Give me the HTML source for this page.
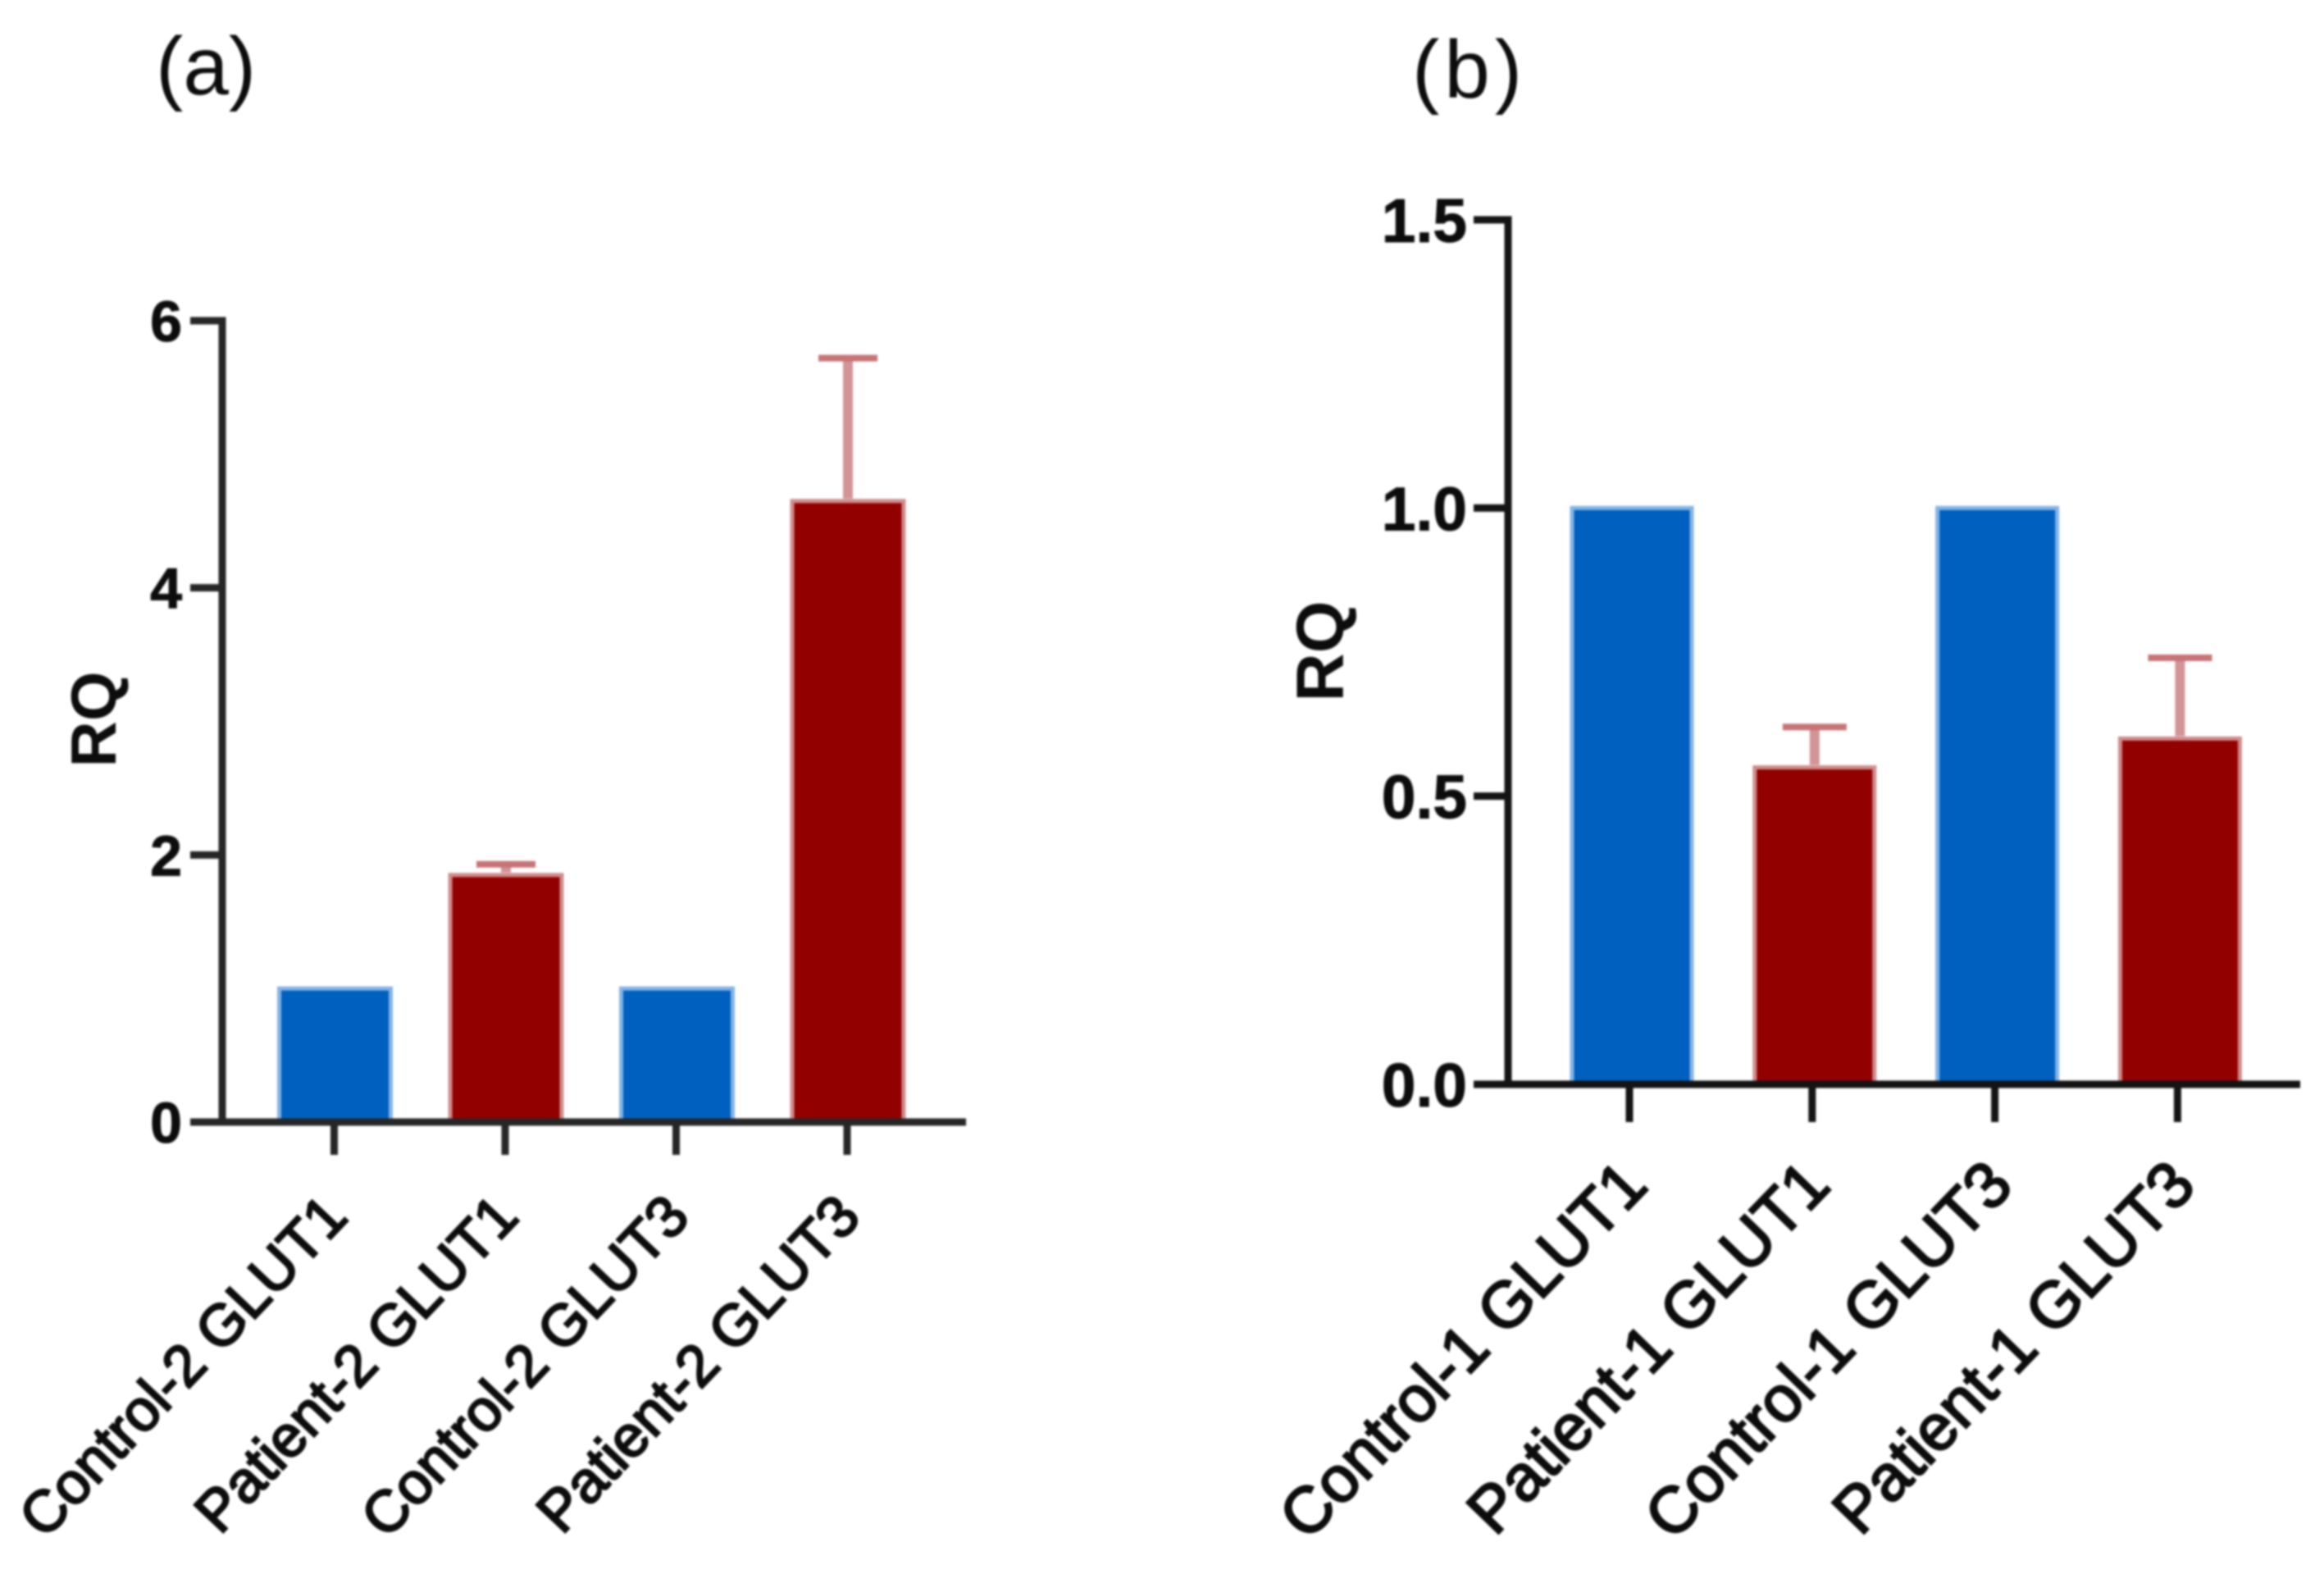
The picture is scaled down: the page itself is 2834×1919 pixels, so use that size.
<!DOCTYPE html>
<html lang="en">
<head>
<meta charset="utf-8">
<title>RQ bar charts</title>
<style>
html,body{margin:0;padding:0;background:#fff;}
body{width:2834px;height:1919px;overflow:hidden;}
svg{display:block;filter:blur(1.3px);}
text{font-family:"Liberation Sans",sans-serif;fill:#0c0c0c;}
</style>
</head>
<body>
<svg id="fig" width="2834" height="1919" viewBox="0 0 2834 1919" xmlns="http://www.w3.org/2000/svg"></svg>
<script>
const panelACategories = ['Control-2 GLUT1', 'Patient-2 GLUT1', 'Control-2 GLUT3', 'Patient-2 GLUT3'];
const panelAValues = [1, 1.85, 1, 4.65];
const panelAErrorTops = [null, 1.93, null, 5.72];
const panelATicks = [0, 2, 4, 6];
const panelATickLabels = ['0', '2', '4', '6'];

const panelBCategories = ['Control-1 GLUT1', 'Patient-1 GLUT1', 'Control-1 GLUT3', 'Patient-1 GLUT3'];
const panelBValues = [1, 0.55, 1, 0.6];
const panelBErrorTops = [null, 0.62, null, 0.74];
const panelBTicks = [0, 0.5, 1, 1.5];
const panelBTickLabels = ['0.0', '0.5', '1.0', '1.5'];

const NS = 'http://www.w3.org/2000/svg';
const fig = document.getElementById('fig');

function make(tag, parent, attrs, content) {
  const el = document.createElementNS(NS, tag);
  for (const k in attrs) el.setAttribute(k, attrs[k]);
  if (content !== undefined) el.textContent = content;
  parent.appendChild(el);
  return el;
}

function drawPanel(p) {
  const g = make('g', fig, {});
  
  

  const yMax = p.ticks[p.ticks.length - 1];
  const yScale = v => p.y0 - (v / yMax) * (p.y0 - p.yTop);
  const xScale = i => p.x0 + i * p.band;

  // title
  const title = make('text', g, {x: p.titleX, y: p.titleY, 'font-size': p.titleSize, 'letter-spacing': p.titleSpacing}, p.title);
  
  

  // y axis title
  const yt = make('text', g, {
    transform: 'translate(' + p.yTitleX + ',' + p.yTitleY + ') rotate(-90)',
    'text-anchor': 'middle', 'font-size': p.yTitleSize, 'font-weight': 700
  }, 'RQ');
  
  

  // bars
  p.values.forEach((v, i) => {
    const isControl = p.categories[i].indexOf('Control') === 0;
    const cx = xScale(i) + p.barDx;
    const bar = make('rect', g, {
      x: cx - p.barW / 2, y: yScale(v),
      width: p.barW, height: p.y0 - yScale(v),
      fill: isControl ? '#0060c0' : '#930000',
      stroke: isControl ? '#82b4e6' : '#d08c8d', 'stroke-width': 5
    });
    
    

    const top = p.errorTops[i];
    if (top !== null) {
      const stem = make('line', g, {
        x1: cx, x2: cx, y1: yScale(v) - 3, y2: yScale(top),
        stroke: '#d29496', 'stroke-width': p.errW
      });
      
      
      const cap = make('line', g, {
        x1: cx - p.capW / 2, x2: cx + p.capW / 2, y1: yScale(top), y2: yScale(top),
        stroke: '#c67476', 'stroke-width': p.capT
      });
      
      
    }
  });

  // axes
  const yAxis = make('line', g, {x1: p.axisX, x2: p.axisX, y1: p.yTop - p.axisW / 2, y2: p.y0, stroke: p.axisColor, 'stroke-width': p.axisW});
  
  
  const xAxis = make('line', g, {x1: p.tickLeft, x2: p.axisRight, y1: p.y0, y2: p.y0, stroke: p.axisColor, 'stroke-width': p.axisW});
  
  

  // y ticks
  p.ticks.forEach((t, i) => {
    const tick = make('line', g, {x1: p.tickLeft, x2: p.axisX, y1: yScale(t), y2: yScale(t), stroke: p.axisColor, 'stroke-width': p.axisW});
    
    
    const lab = make('text', g, {
      x: p.tickTextX, y: yScale(t) + p.tickTextDy, 'text-anchor': 'end',
      'font-size': p.tickSize, 'font-weight': 700,
      stroke: '#0c0c0c', 'stroke-width': 1
    }, p.tickLabels[i]);
    
    
  });

  // x ticks + labels
  p.categories.forEach((c, i) => {
    const tick = make('line', g, {x1: xScale(i), x2: xScale(i), y1: p.y0, y2: p.xTickEnd, stroke: p.axisColor, 'stroke-width': p.axisW});
    
    
    const lab = make('text', g, {
      transform: 'translate(' + (xScale(i) + p.labelDx) + ',' + p.labelY + ') rotate(' + p.labelAngle + ')',
      'text-anchor': 'end', 'font-size': p.labelSize,
      stroke: '#0c0c0c', 'stroke-width': p.labelStroke
    }, c);
    
    
  });
}

drawPanel({
  name: 'chart-a', title: '(a)', titleX: 190, titleY: 115, titleSize: 100, titleSpacing: 0,
  categories: panelACategories, values: panelAValues, errorTops: panelAErrorTops,
  ticks: panelATicks, tickLabels: panelATickLabels,
  y0: 1368, yTop: 391, x0: 407.5, band: 208.5, barW: 136, barDx: 1,
  errW: 12, capW: 72, capT: 8,
  axisX: 271, axisRight: 1178, tickLeft: 232, axisW: 9, axisColor: '#262626',
  xTickEnd: 1408, tickTextX: 222, tickTextDy: 25, tickSize: 70,
  yTitleX: 141, yTitleY: 877, yTitleSize: 78,
  labelDx: 19, labelY: 1486, labelAngle: -46.5, labelSize: 71, labelStroke: 2.5
});

drawPanel({
  name: 'chart-b', title: '(b)', titleX: 1722, titleY: 119, titleSize: 100, titleSpacing: 6,
  categories: panelBCategories, values: panelBValues, errorTops: panelBErrorTops,
  ticks: panelBTicks, tickLabels: panelBTickLabels,
  y0: 1322, yTop: 268, x0: 1987, band: 222.8, barW: 146, barDx: 3,
  errW: 12, capW: 78, capT: 8,
  axisX: 1839, axisRight: 2805, tickLeft: 1797, axisW: 9, axisColor: '#141414',
  xTickEnd: 1368, tickTextX: 1789, tickTextDy: 27, tickSize: 75,
  yTitleX: 1638, yTitleY: 794, yTitleSize: 82,
  labelDx: 25, labelY: 1448, labelAngle: -46, labelSize: 79, labelStroke: 2.5
});
</script>
</body>
</html>
